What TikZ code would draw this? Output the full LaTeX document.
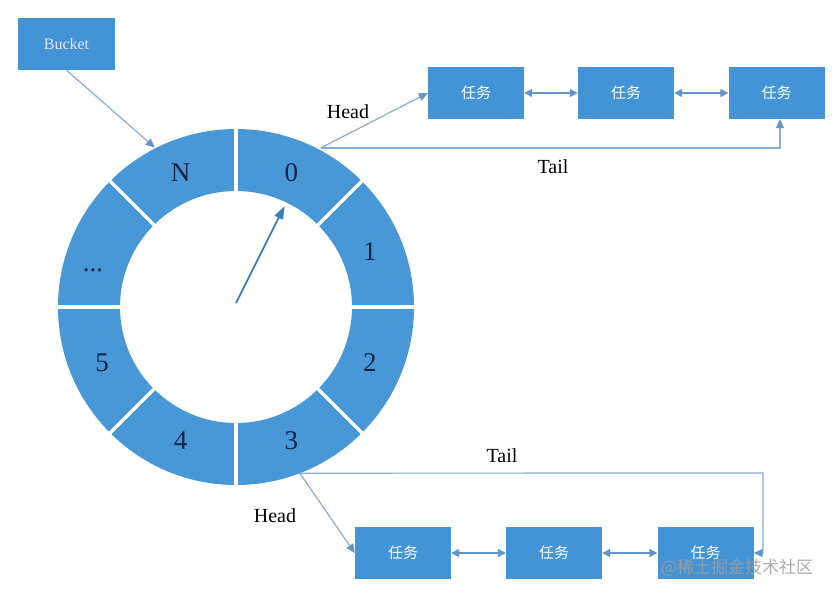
\documentclass[tikz,border=0pt]{standalone}
\usepackage{fontspec}
\setmainfont{Liberation Serif}
\newfontfamily\cjk{Noto Sans CJK SC}
\usetikzlibrary{arrows.meta,calc}
\definecolor{ringblue}{RGB}{72,152,216}
\definecolor{boxblue}{RGB}{66,148,214}
\definecolor{linkblue}{RGB}{134,174,212}
\definecolor{arrowblue}{RGB}{98,148,200}
\definecolor{ptrblue}{RGB}{60,125,190}
\definecolor{navy}{RGB}{20,35,70}
\begin{document}
\begin{tikzpicture}[x=1pt,y=1pt,
  taskbox/.style={fill=boxblue, minimum width=96pt, minimum height=52pt, inner sep=0pt, text=white, font=\cjk\fontsize{15}{15}\selectfont},
  seglabel/.style={text=navy, font=\fontsize{27}{27}\selectfont},
  link/.style={draw=linkblue, line width=1.2pt, -{Triangle[length=9pt,width=8pt,color=arrowblue]}},
  dbl/.style={draw=arrowblue, line width=1.5pt, {Triangle[length=8pt,width=8pt]}-{Triangle[length=8pt,width=8pt]}},
  lbl/.style={text=black, font=\fontsize{20}{20}\selectfont}]
\useasboundingbox (0,0) rectangle (834,-597);
\fill[white] (0,0) rectangle (834,-597);
% ring
\coordinate (C) at (236,-307);
\fill[ringblue, even odd rule] (C) circle[radius=178] (C) circle[radius=116];
\foreach \a in {0,45,...,315}
  \draw[white, line width=3.5pt] ($(C)+(\a:113)$) -- ($(C)+(\a:181)$);
\node[seglabel] (s0) at ($(C)+(67.5:145)$) {0};
\node[seglabel] (s1) at ($(C)+(22.5:145)$) {1};
\node[seglabel] (s2) at ($(C)+(-22.5:145)$) {2};
\node[seglabel] (s3) at ($(C)+(-67.5:145)$) {3};
\node[seglabel] (s4) at ($(C)+(-112.5:145)$) {4};
\node[seglabel] (s5) at ($(C)+(-157.5:145)$) {5};
\node[seglabel] (sN) at ($(C)+(112.5:145)$) {N};
\node[seglabel, anchor=base] (sdots) at (93,-271) {...};
% pointer
\coordinate (ptrS) at ($(C)+(0,4)$);
\coordinate (ptrE) at ($(C)+(64.3:112)$);
\draw[draw=ptrblue, line width=1.8pt, -{Triangle[length=13pt,width=9pt]}] (ptrS) -- (ptrE);
% bucket
\node[fill=boxblue, minimum width=97pt, minimum height=52pt, inner sep=0pt, text=white!90!blue, font=\fontsize{16}{16}\selectfont] (bucket) at (66.5,-44) {Bucket};
\coordinate (nIn) at ($(C)+(117:179)$);
\draw[link] (bucket.south) -- (nIn);
% top list
\node[taskbox] (t1) at (476,-93) {任务};
\node[taskbox] (t2) at (626,-93) {任务};
\node[taskbox] (t3) at (776.5,-93) {任务};
\draw[dbl] (t1) -- (t2);
\draw[dbl] (t2) -- (t3);
\coordinate (h0) at ($(C)+(62:180)$);
\draw[link] (h0) -- (t1.west);
\draw[link] (h0) -| ([xshift=3.5pt]t3.south);
\node[lbl] (headT) at (348,-112) {Head};
\node[lbl] (tailT) at (553,-167) {Tail};
% bottom list
\node[taskbox] (b1) at (403,-553) {任务};
\node[taskbox] (b2) at (554,-553) {任务};
\node[taskbox] (b3) at (705.5,-553) {任务};
\draw[dbl] (b1) -- (b2);
\draw[dbl] (b2) -- (b3);
\coordinate (h3) at ($(C)+(-69:178)$);
\coordinate (tr3) at (763,-473);
\draw[link] (h3) -- (b1.west);
\draw[link] (h3) -- (tr3) |- (b3.east);
\node[lbl] (headB) at (275,-516) {Head};
\node[lbl] (tailB) at (502,-456) {Tail};
% watermark
\node[text=gray!75, font=\cjk\fontsize{17}{17}\selectfont, opacity=0.85] (wm) at (737,-568) {@稀土掘金技术社区};
\end{tikzpicture}
\end{document}
